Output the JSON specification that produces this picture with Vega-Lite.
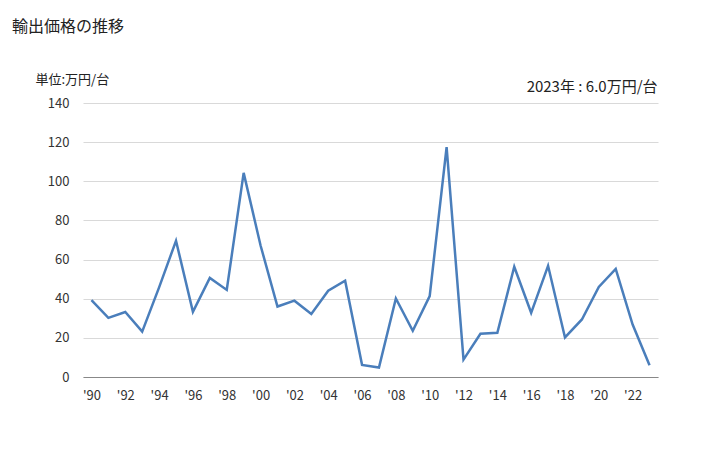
{
  "$schema": "https://vega.github.io/schema/vega-lite/v6.json",
  "autosize": "none",
  "width": 575,
  "height": 274,
  "padding": {"left": 83, "top": 103, "right": 70, "bottom": 73},
  "background": "white",
  "config": {
    "font": "Noto Sans CJK JP",
    "view": {"stroke": null}
  },
  "title": {
    "text": "輸出価格の推移",
    "anchor": "start",
    "frame": "group",
    "orient": "top",
    "dx": -71,
    "offset": 38,
    "fontSize": 16,
    "fontWeight": "normal",
    "color": "#222"
  },
  "data": {
    "values": [
      {"year": 1990, "value": 39.3},
      {"year": 1991, "value": 30.2},
      {"year": 1992, "value": 33.2},
      {"year": 1993, "value": 23.2},
      {"year": 1994, "value": 45.8},
      {"year": 1995, "value": 69.6},
      {"year": 1996, "value": 33.3},
      {"year": 1997, "value": 50.6},
      {"year": 1998, "value": 44.5},
      {"year": 1999, "value": 104.3},
      {"year": 2000, "value": 67.2},
      {"year": 2001, "value": 36.0},
      {"year": 2002, "value": 39.0},
      {"year": 2003, "value": 32.2},
      {"year": 2004, "value": 44.1},
      {"year": 2005, "value": 49.2},
      {"year": 2006, "value": 6.2},
      {"year": 2007, "value": 4.8},
      {"year": 2008, "value": 40.1},
      {"year": 2009, "value": 23.6},
      {"year": 2010, "value": 41.3},
      {"year": 2011, "value": 117.5},
      {"year": 2012, "value": 8.9},
      {"year": 2013, "value": 22.1},
      {"year": 2014, "value": 22.6},
      {"year": 2015, "value": 56.3},
      {"year": 2016, "value": 32.8},
      {"year": 2017, "value": 56.8},
      {"year": 2018, "value": 20.2},
      {"year": 2019, "value": 29.4},
      {"year": 2020, "value": 46.0},
      {"year": 2021, "value": 55.2},
      {"year": 2022, "value": 26.8},
      {"year": 2023, "value": 6.0}
    ]
  },
  "layer": [
    {
      "mark": {"type": "line", "color": "#4a7ebb", "strokeWidth": 2.5},
      "encoding": {
        "x": {
          "field": "year",
          "type": "quantitative",
          "scale": {"domain": [1989.5, 2023.5], "nice": false, "zero": false},
          "axis": {
            "values": [1990, 1992, 1994, 1996, 1998, 2000, 2002, 2004, 2006, 2008, 2010, 2012, 2014, 2016, 2018, 2020, 2022],
            "tickCount": 50,
            "labelExpr": "\"'\" + substring(toString(datum.value), 2)",
            "labelOverlap": false,
            "title": null,
            "grid": false,
            "ticks": false,
            "domain": true,
            "domainColor": "#888888",
            "domainWidth": 1,
            "labelFontSize": 13,
            "labelColor": "#333333",
            "labelPadding": 12,
            "labelFlush": false
          }
        },
        "y": {
          "field": "value",
          "type": "quantitative",
          "scale": {"domain": [0, 140], "nice": false},
          "axis": {
            "values": [0, 20, 40, 60, 80, 100, 120, 140],
            "tickCount": 20,
            "labelOverlap": false,
            "title": "単位:万円/台",
            "titleAngle": 0,
            "titleX": -48,
            "titleY": -24,
            "titleAlign": "left",
            "titleBaseline": "middle",
            "titleFontSize": 13,
            "titleFontWeight": "normal",
            "titleColor": "#222222",
            "grid": true,
            "gridColor": "#d9d9d9",
            "gridWidth": 1,
            "ticks": false,
            "domain": false,
            "labelFontSize": 13,
            "labelColor": "#333333",
            "labelPadding": 14
          }
        }
      }
    },
    {
      "data": {"values": [{"label": "2023年 : 6.0万円/台"}]},
      "mark": {"type": "text", "align": "right", "baseline": "middle", "fontSize": 15, "color": "#222222", "dx": 8, "dy": -16},
      "encoding": {
        "x": {"datum": 2023, "type": "quantitative"},
        "y": {"datum": 140, "type": "quantitative"},
        "text": {"field": "label"}
      }
    }
  ]
}
